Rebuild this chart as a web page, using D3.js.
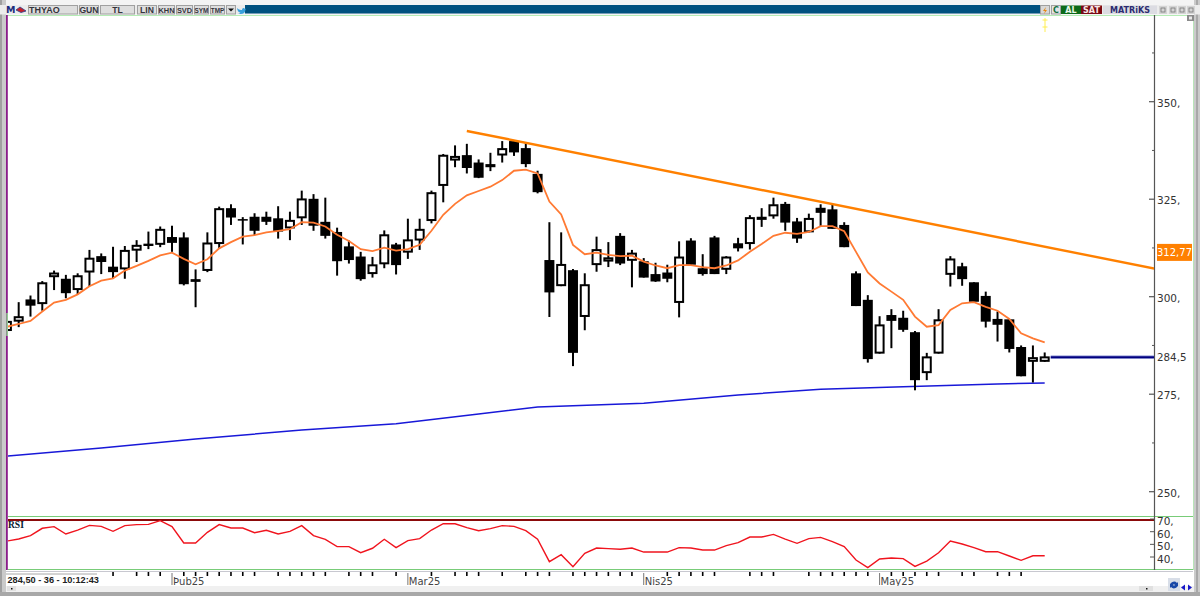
<!DOCTYPE html>
<html><head><meta charset="utf-8">
<style>html,body{margin:0;padding:0;background:#fff;overflow:hidden}svg{display:block}</style>
<script src="https://cdnjs.cloudflare.com/ajax/libs/d3/7.8.5/d3.min.js"></script>
</head><body><svg id="c" width="1200" height="596"></svg>
<script>
const symbol="THYAO";
const openP=[291.2,293.6,299.3,298.1,305.0,304.6,301.7,306.2,310.4,307.7,307.0,311.8,313.6,313.3,315.3,315.2,304.5,306.6,313.5,322.7,319.9,320.5,320.5,320.1,317.5,320.1,325.1,319.2,316.6,312.9,310.3,305.8,308.3,313.4,311.3,314.4,319.4,328.4,334.9,336.3,334.4,334.0,336.2,339.9,338.1,331.5,309.4,302.7,306.8,294.8,308.1,309.0,315.6,309.2,309.1,305.8,306.2,298.4,314.4,307.3,315.2,306.9,313.7,313.5,320.5,320.6,323.8,319.3,316.5,322.8,322.4,318.4,306.0,299.2,285.4,295.3,294.6,290.9,280.4,285.4,305.6,307.8,303.7,300.2,294.3,294.2,287.1,283.3,283.3];
const closeP=[293.8,295.0,297.7,303.7,306.2,300.9,305.5,310.0,308.9,306.3,312.0,313.3,313.0,317.4,313.8,303.2,303.8,313.9,322.7,320.3,319.5,316.9,319.2,316.7,319.7,325.2,318.2,315.6,309.1,309.4,304.5,308.3,316.0,308.1,314.7,317.4,326.8,336.4,336.1,333.0,330.5,333.2,338.1,337.0,334.0,326.8,301.1,308.4,285.6,303.2,312.2,310.1,308.5,311.3,304.9,303.9,304.6,310.3,308.2,305.8,305.8,310.3,312.4,320.4,319.7,323.7,319.0,314.9,320.2,321.5,317.4,312.7,297.6,284.0,292.9,293.8,291.5,278.6,284.7,294.2,309.8,304.5,298.7,293.6,292.8,286.6,279.6,284.5,284.7];
const highP=[293.8,298.6,300.3,304.0,306.7,305.6,306.0,312.0,311.1,312.8,313.0,314.5,316.7,318.0,318.2,316.5,307.0,316.5,323.1,323.7,320.4,321.4,321.8,323.2,321.8,327.2,326.3,325.4,317.7,314.4,311.5,310.2,317.0,313.8,320.0,320.0,327.2,336.6,338.8,339.2,335.2,336.9,339.9,340.1,339.3,332.3,319.1,316.5,307.1,306.0,315.4,314.0,316.3,312.0,309.9,308.7,308.2,314.2,315.0,310.9,315.6,310.4,315.1,320.9,322.7,325.4,324.3,320.2,321.3,323.7,323.8,319.1,306.5,300.4,295.0,296.8,296.4,291.2,285.6,296.8,310.4,308.7,303.7,301.3,296.2,294.3,287.5,287.5,285.7];
const lowP=[291.2,292.2,294.9,296.4,301.7,299.6,300.7,302.7,305.8,304.7,304.6,308.9,312.2,312.7,311.5,302.9,297.3,306.3,312.4,318.4,313.4,315.8,318.4,314.9,314.5,318.4,316.9,314.9,305.4,308.5,304.1,304.9,307.3,305.7,309.7,312.0,318.8,324.2,333.2,331.6,330.4,332.2,334.4,336.1,333.2,326.5,294.8,302.7,282.2,291.4,306.4,307.6,308.1,302.4,304.9,303.8,303.7,294.7,307.9,305.4,305.8,305.8,311.6,312.1,317.9,320.0,316.9,313.8,316.5,318.1,317.4,312.7,297.6,283.1,285.4,286.8,291.0,276.0,278.6,285.4,302.6,302.8,298.7,292.1,288.5,285.7,279.6,278.0,283.3];
const maShort=[292.3,293.0,293.8,296.2,298.5,299.2,300.6,302.7,304.1,304.7,306.7,307.9,309.2,310.6,311.3,309.7,308.3,309.6,312.4,314.0,315.4,315.8,316.5,316.9,317.3,319.1,319.0,318.0,315.9,314.3,312.2,311.7,312.6,311.8,312.2,313.3,316.9,321.0,323.8,326.0,327.1,328.2,329.9,332.3,332.6,331.6,324.4,321.1,313.3,310.9,311.3,310.7,310.4,310.5,309.0,308.0,307.3,308.1,308.1,307.6,307.3,308.0,309.3,311.5,313.5,315.6,316.4,316.1,316.6,318.1,318.1,316.8,311.5,306.2,303.4,301.3,299.2,294.9,292.3,292.7,296.6,298.3,298.6,297.4,296.4,294.3,290.6,289.3,288.3];
const maLongIdx=[0,8,16,25,33,40,45,54,62,69,76,84,88];
const maLong=[259.1,261.2,263.5,265.8,267.4,269.9,271.7,272.7,274.8,276.3,276.9,277.6,277.9];
const rsi=[52.6,54.2,56.9,62.7,64.0,58.2,61.3,65.0,64.2,60.3,64.8,65.6,65.8,68.7,64.0,51.1,51.1,59.5,65.6,62.9,62.9,59.2,61.1,58.2,60.3,64.8,56.9,54.0,48.2,48.2,43.4,46.9,54.0,47.4,52.9,54.5,61.3,66.3,66.3,63.2,60.8,62.4,64.8,64.2,60.8,54.0,36.3,41.8,32.3,42.9,47.1,46.6,46.1,47.1,43.9,43.9,43.9,47.4,47.1,45.5,45.5,49.0,51.3,55.8,55.8,57.9,54.2,50.8,54.5,55.5,52.1,48.2,37.6,31.6,38.4,39.2,38.7,32.6,36.8,43.4,52.6,50.3,47.4,44.2,44.2,40.8,37.4,41.0,41.0];
const trendIdx=[39,97.3];
const trendVal=[342.5,307.2];
const lastPrice=284.5;
const trendLabel="312,77";
const priceTicksMajor=[350,325,300,275,250];
const priceLabels=["350,","325,","300,","275,","250,"];
const priceTicksMinor=[362.5,337.5,312.5,287.5,262.5];
const rsiTicks=[70,60,50,40];
const rsiLabels=["70,","60,","50,","40,"];
const dayTicks=[9,11,12,13,15,16,17,18,19,20,21,23,24,25,26,27,29,30,31,33,36,38,39,40,42,44,45,46,48,49,50,51,52,53,56,57,58,59,60,63,64,65,68,69,70,71,72,73,75,76,77,78,79,81,82,84,85,86];
const monthIdx=[14,34,54,74];
const monthLabels=["Þub25","Mar25","Nis25","May25"];
const statusText="284,50 - 36 - 10:12:43";
const tabs=["GUN","TL","LIN","KHN","SVD","SYM","TMP"];

const svg=d3.select("#c");
const FONT="'DejaVu Sans',sans-serif";
const NARROW="'Liberation Sans',sans-serif";
const x=d3.scaleLinear().domain([0,88]).range([6.9,1044.7]);
const y=d3.scaleLinear().domain([250,350]).range([491.7,101.7]);
const yR=d3.scaleLinear().domain([40,60]).range([557,531.7]);
const idx=d3.range(openP.length);
const R=(a,b,w,h,f,g=svg)=>g.append("rect").attr("x",a).attr("y",b).attr("width",w).attr("height",h).attr("fill",f);
const T=(s,a,b,o={})=>svg.append("text").text(s).attr("x",a).attr("y",b).attr("font-family",o.fam||FONT).attr("font-size",o.size||10).attr("font-weight",o.w||"normal").attr("fill",o.fill||"#333").attr("text-anchor",o.anchor||"start");
const L=(a,b,c,d,col,w=1)=>svg.append("line").attr("x1",a).attr("y1",b).attr("x2",c).attr("y2",d).attr("stroke",col).attr("stroke-width",w);

// frame
R(0,0,1200,596,"#fff");
R(0,0,1200,5,"#f4f4f4");
R(0,0,6,596,"#cacaca"); R(0,0,2,596,"#a0a0a0");
R(1194,0,6,596,"#cacaca"); R(1196,0,2,596,"#a8a8a8");
R(0,5,1200,9.5,"#ececec");
R(245,5,795,8.5,"#00517f");
// toolbar
T("M",6,13,{size:9.5,w:"bold",fill:"#1c2c7c"});
svg.append("path").attr("d",d3.line()([[16,10],[20,7],[26,11],[21,12.5],[16,10]])).attr("fill","#c8202a").attr("stroke","#24408c").attr("stroke-width",.8);
const btnX=[79,100,137,158,176,194,210], btnW=[20,35,20,17,17,15,15], tabSize=[8.6,8.6,8.6,7.4,7.4,6.4,6.4];
const B=(a,w,f)=>R(a+.5,5.5,w-1,8.5,f).attr("stroke","#a0a0a0").attr("stroke-width",1);
B(28,50,"#dedede");
T(symbol,29,12.8,{size:9,w:"bold",fam:NARROW,fill:"#34343c"});
tabs.forEach((t,i)=>{B(btnX[i],btnW[i],"#dedede");T(t,btnX[i]+btnW[i]/2,12.6,{size:tabSize[i],w:"bold",fam:NARROW,anchor:"middle",fill:"#34343c"});});
B(226,10,"#dedede");
svg.append("path").attr("d","M228 8.5h6l-3 3z").attr("fill","#111");
svg.append("path").attr("d","M237 8c2 2 4 2 5 2c0-2 2-3 3-1l1-.4l-.6 1.4c0 3-3 5-8 3.6c2 0 3-.6 3-1c-2 0-3-2-3.4-4.6z").attr("fill","#38a0dc");
B(1040,10,"#d8d8d8"); svg.append("path").attr("d","M1046 7l-3 4h2l-1 3l3-4h-2z").attr("fill","#e88810");
B(1051,10,"#e4e4e4"); T("C",1053,13,{size:8,w:"bold",fill:"#107040"});
R(1061,5.5,20,8.5,"#0c6a18"); T("AL",1071,13,{size:8,w:"bold",fill:"#e8f8e8",anchor:"middle"});
R(1081,5.5,21,8.5,"#7a0a14"); T("SAT",1091.5,13,{size:8,w:"bold",fill:"#f8e8e8",anchor:"middle"});
R(1103,5.5,54,8.5,"#dcdce2"); T("MATRiKS",1130,13,{size:8,w:"bold",fill:"#2c2c70",anchor:"middle"});
[1159,1169,1178,1187].forEach(a=>{R(a,6,8,8,"#d4d4d4");svg.append("rect").attr("x",a+2).attr("y",8).attr("width",4).attr("height",4).attr("fill","none").attr("stroke","#777").attr("stroke-width",.8);});
// plot frame
L(7,15.5,1193,15.5,"#b4ecb4",1);
L(1193.5,15,1193.5,570,"#b8e4b8",1);
R(6,15,1.8,555,"#8a1c8a");
R(6.4,313,1.4,23,"#90e890");
L(8,516.5,1193,516.5,"#78cc78",1);
L(8,569.5,1193,569.5,"#78cc78",1);
L(6,571.5,1193,571.5,"#c8c8d0",1);
R(8,519,1146,2,"#8b0a0a");
R(1187,15,7,6,"#8a8a8a"); R(1189,16.5,3,3,"#e8e8e8");
// axis
L(1154.5,15,1154.5,570,"#555",1.2);
priceTicksMajor.forEach((v,i)=>{L(1149,y(v),1154,y(v),"#555",1.2);T(priceLabels[i],1157,y(v)+5,{size:10.5});});
priceTicksMinor.forEach(v=>L(1152,y(v),1154,y(v),"#555",1));
T(String(lastPrice).replace(".",","),1157,y(lastPrice)+4,{size:10.3});
rsiTicks.forEach((v,i)=>{L(1150,yR(v),1154,yR(v),"#555",1);T(rsiLabels[i],1157,yR(v)+6,{size:10.5});});
// yellow marker
svg.append("g").attr("stroke","#ffee50").attr("stroke-width",1).selectAll("line").data([[1045,18,1045,32],[1042.5,20,1047.5,20],[1042.5,27,1047.5,27]]).join("line").attr("x1",d=>d[0]).attr("y1",d=>d[1]).attr("x2",d=>d[2]).attr("y2",d=>d[3]);
// clip
svg.append("clipPath").attr("id","pl").append("rect").attr("x",8).attr("y",16).attr("width",1146).attr("height",500);
const g=svg.append("g").attr("clip-path","url(#pl)");
// long MA
g.append("path").datum(maLong).attr("fill","none").attr("stroke","#1818d8").attr("stroke-width",1.5)
 .attr("d",d3.line().x((d,i)=>x(maLongIdx[i])).y(d=>y(d)));
// candles
const c=g.selectAll("g.c").data(idx).join("g");
c.append("line").attr("x1",i=>x(i)).attr("x2",i=>x(i)).attr("y1",i=>y(highP[i])).attr("y2",i=>y(lowP[i])).attr("stroke","#000").attr("stroke-width",2);
c.each(function(i){
  const up=closeP[i]>=openP[i], t=y(Math.max(openP[i],closeP[i])), b=y(Math.min(openP[i],closeP[i]));
  if(up) d3.select(this).append("rect").attr("x",x(i)-4).attr("width",8).attr("y",t+1).attr("height",Math.max(b-t-2,1)).attr("fill","#fff").attr("stroke","#000").attr("stroke-width",2);
  else d3.select(this).append("rect").attr("x",x(i)-5).attr("width",10).attr("y",t).attr("height",Math.max(b-t,1)).attr("fill","#000");
});
// short MA
g.append("path").datum(maShort).attr("fill","none").attr("stroke","#ff7a33").attr("stroke-width",1.8)
 .attr("d",d3.line().x((d,i)=>x(i)).y(d=>y(d)));
// trend line
g.append("path").datum(trendVal).attr("fill","none").attr("stroke","#ff8000").attr("stroke-width",2.4)
 .attr("d",d3.line().x((d,i)=>x(trendIdx[i])).y(d=>y(d)));
// last price line
L(x(88)+6,y(lastPrice),1154,y(lastPrice),"#aab0e0",3.6);
L(x(88)+6,y(lastPrice),1154,y(lastPrice),"#000080",2);
// trend label
const ty=y(312.77);
R(1157,ty-3,35,17,"#ff8000");
T(trendLabel,1174.5,ty+9,{size:10,fill:"#fff",anchor:"middle"});
// RSI
svg.append("clipPath").attr("id","rs").append("rect").attr("x",8).attr("y",520).attr("width",1146).attr("height",50);
svg.append("g").attr("clip-path","url(#rs)").append("path").datum(rsi).attr("fill","none").attr("stroke","#f0141e").attr("stroke-width",1.4)
 .attr("d",d3.line().x((d,i)=>x(i)).y(d=>yR(d)));
T("RSI",8,528,{size:9.5,w:"bold",fill:"#052030",fam:"'Liberation Serif',serif"});
// time ticks
svg.append("g").selectAll("rect").data(dayTicks).join("rect").attr("x",i=>x(i)-.8).attr("y",572).attr("width",1.6).attr("height",4).attr("fill","#000");
monthIdx.forEach((i,k)=>{L(x(i),573,x(i),585,"#777",1);T(monthLabels[k],x(i)+1,585,{size:10,fill:"#444"});});
// status box
R(6,573.5,91,11.5,"#fff");
L(6,574,97,574,"#a8a8a8",1);
T(statusText,7.5,583,{size:9.2,w:"bold",fam:NARROW,fill:"#222"});
// bottom band
R(6,586,1188,6,"#f0f0f0");
R(0,592,1200,4,"#a8a8a8");
R(7,586,9,5,"#e0e0e0"); R(11,588,1.5,1.5,"#111");
R(1139,586,14,5,"#e0e0e0"); R(1146,588,1.5,1.5,"#111");
R(1168,578,12,13,"#d8dee8");
svg.append("path").attr("d","M1170 586a4 4 0 0 1 7-3l1-1v4h-4l1-1a3 3 0 0 0-5 1zM1178 584a4 4 0 0 1-7 3l-1 1v-4h4l-1 1a3 3 0 0 0 5-1z").attr("fill","#1848a8");
svg.append("path").attr("d","M1181 587.5l4-3v6zM1192 587.5l-4-3v6z").attr("fill","#1818c8");
</script></body></html>
